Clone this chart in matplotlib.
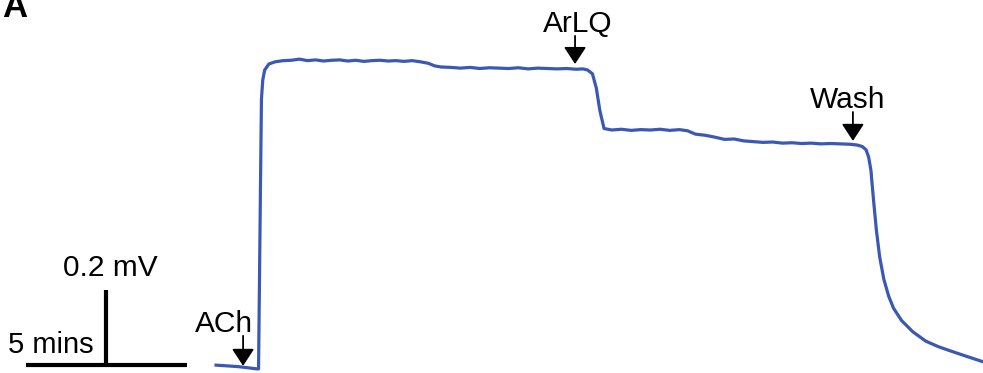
import matplotlib.pyplot as plt

plt.rcParams['font.family'] = ['Liberation Sans', 'DejaVu Sans']

# recorded trace: time (min) and response (mV)
t = [6.71, 7.40, 7.98, 8.03, 8.09, 8.12, 8.16, 8.22, 8.35, 8.55, 8.80, 9.05,
     9.30, 9.55, 9.80, 10.05, 10.30, 10.55, 10.80, 11.05, 11.30, 11.55,
     11.80, 12.05, 12.30, 12.55, 12.80, 13.05, 13.30, 13.50, 13.70, 14.00,
     14.30, 14.60, 14.90, 15.20, 15.50, 15.80, 16.10, 16.40, 16.70, 17.00,
     17.30, 17.60, 17.90, 18.10, 18.25, 18.40, 18.52, 18.63, 18.76, 19.00,
     19.30, 19.60, 19.90, 20.20, 20.50, 20.80, 21.10, 21.35, 21.60, 21.90,
     22.20, 22.50, 22.80, 23.10, 23.40, 23.70, 24.00, 24.30, 24.60, 24.90,
     25.20, 25.50, 25.80, 26.10, 26.40, 26.62, 26.78, 26.90, 26.98, 27.05,
     27.13, 27.22, 27.32, 27.45, 27.60, 27.75, 28.00, 28.35, 28.75, 29.15,
     29.55, 30.00, 30.53]
v = [0.021, 0.017, 0.011, 0.011, 0.500, 0.730, 0.781, 0.808, 0.824, 0.830,
     0.833, 0.834, 0.837, 0.833, 0.835, 0.832, 0.834, 0.835, 0.832, 0.834,
     0.831, 0.833, 0.834, 0.832, 0.833, 0.831, 0.833, 0.830, 0.826, 0.819,
     0.816, 0.815, 0.813, 0.815, 0.812, 0.814, 0.813, 0.812, 0.814, 0.811,
     0.813, 0.812, 0.811, 0.812, 0.810, 0.811, 0.808, 0.798, 0.760, 0.700,
     0.652, 0.648, 0.650, 0.647, 0.649, 0.648, 0.650, 0.647, 0.649, 0.646,
     0.637, 0.634, 0.629, 0.623, 0.624, 0.619, 0.617, 0.615, 0.616, 0.613,
     0.614, 0.612, 0.613, 0.611, 0.612, 0.611, 0.610, 0.608, 0.604, 0.595,
     0.575, 0.540, 0.461, 0.380, 0.310, 0.250, 0.205, 0.173, 0.140, 0.110,
     0.085, 0.070, 0.058, 0.045, 0.030]

# drug application markers
labels = ['ACh', 'ArLQ', 'Wash']

# arrow x (min), arrow tip / tail (mV), label centre x (min), label baseline (mV)
arrow_x = [7.55, 17.86, 26.49]
arrow_tip = [0.019, 0.824, 0.619]
arrow_tail = [0.099, 0.899, 0.696]
label_x = [6.96, 17.95, 26.34]
label_y = [0.109, 0.909, 0.707]

# scale bars
bar_x0 = 0.81
bar_len_t = 5.0   # mins
bar_len_v = 0.2   # mV
bar_y0 = 0.021
bar_vx = 3.29

fig = plt.figure(figsize=(9.83, 3.73), dpi=100)
ax = fig.add_axes([0, 0, 1, 1])
ax.set_xlim(0, 30.53)
ax.set_ylim(0, 0.9947)
ax.axis('off')

ax.plot(t, v, color='#3a58b4', lw=2.3, solid_joinstyle='round')

for name, xa, tip, tail, xl, yl in zip(labels, arrow_x, arrow_tip,
                                        arrow_tail, label_x, label_y):
    ax.annotate('', xy=(xa, tip), xytext=(xa, tail),
                arrowprops=dict(arrowstyle='-|>,head_length=0.55,head_width=0.36',
                                color='black', lw=1.3, mutation_scale=19,
                                shrinkA=0, shrinkB=0))
    ax.text(xl, yl, name, ha='center', va='baseline', fontsize=21.5)

ax.plot([bar_x0, bar_x0 + bar_len_t], [bar_y0, bar_y0], color='black',
        lw=3, solid_capstyle='butt')
ax.plot([bar_vx, bar_vx], [bar_y0, bar_y0 + bar_len_v], color='black',
        lw=3, solid_capstyle='butt')
ax.text(3.42, 0.259, '0.2 mV', ha='center', va='baseline', fontsize=21.5)
ax.text(1.58, 0.053, '5 mins', ha='center', va='baseline', fontsize=21)

fig.text(0.002, 1 - 17 / 373, 'A', fontsize=25, fontweight='bold',
         va='baseline')

fig.savefig('out.png', dpi=100)
